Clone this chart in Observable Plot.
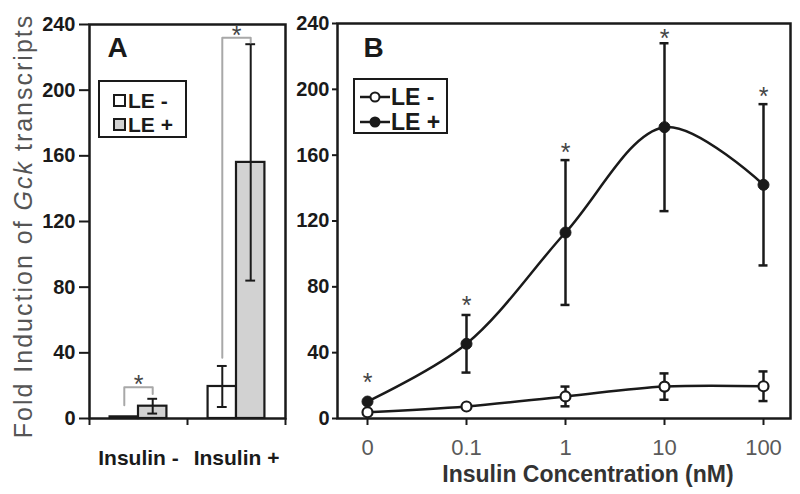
<!DOCTYPE html>
<html>
<head>
<meta charset="utf-8">
<script src="https://cdn.jsdelivr.net/npm/d3@7"></script>
<script src="https://cdn.jsdelivr.net/npm/@observablehq/plot@0.6"></script>
<style>
  html, body { margin: 0; padding: 0; background: #fff; }
  #wrap { position: relative; width: 800px; height: 494px; overflow: hidden; font-family: "Liberation Sans", Arial, sans-serif; }
  #wrap > svg { position: absolute; top: 0; }
  .legend { position: absolute; border: 2px solid #1a1a1a; background: #fff; box-sizing: border-box; font-weight: bold; color: #1a1a1a; }
  .legend .row { position: absolute; left: 0; display: flex; align-items: center; white-space: nowrap; }
</style>
</head>
<body>
<div id="wrap"></div>
<script>
// ---------- Panel A data ----------
const groups = ["Insulin -", "Insulin +"];
const seriesNames = ["LE -", "LE +"];
const barLEminus = [1, 19.5];
const barLEminusErr = [0, 12.5];
const barLEplus = [7.5, 156];
const barLEplusErr = [4.5, 72];
const bracketTop = [19, 232];
const bracketLeftEnd = [8, 37];
const bracketRightEnd = [15, 229];
const yTicks = [0, 40, 80, 120, 160, 200, 240];

// ---------- Panel B data ----------
const conc = ["0", "0.1", "1", "10", "100"];
const lineLEminus = [3.8, 7.3, 13.4, 19.4, 19.6];
const lineLEminusErr = [0, 0, 6, 8, 9];
const lineLEplus = [10.3, 45.4, 113, 177, 142];
const lineLEplusErr = [0, 17.5, 44, 51, 49];
const starY = [25, 72, 165, 234, 199];

const INK = "#1a1a1a";
const FONT = "Liberation Sans, Arial, sans-serif";
const wrap = document.getElementById("wrap");

// ---------- Panel A ----------
const barW = 0.29;
const aRows = groups.flatMap((g, gi) => [
  {group: g, gi, series: seriesNames[0], value: barLEminus[gi], err: barLEminusErr[gi], x1: gi + 0.5 - barW, x2: gi + 0.5},
  {group: g, gi, series: seriesNames[1], value: barLEplus[gi], err: barLEplusErr[gi], x1: gi + 0.5, x2: gi + 0.5 + barW}
]);
const ctr = d => (d.x1 + d.x2) / 2;
const aErr = aRows.filter(d => d.err > 0);
const capA = 0.05;
const bracketPts = groups.flatMap((g, gi) => {
  const l = gi + 0.5 - barW / 2, r = gi + 0.5 + barW / 2;
  return [
    {gi, x: l, y: bracketLeftEnd[gi]},
    {gi, x: l, y: bracketTop[gi]},
    {gi, x: r, y: bracketTop[gi]},
    {gi, x: r, y: bracketRightEnd[gi]}
  ];
});

const plotA = Plot.plot({
  width: 289, height: 494,
  marginLeft: 89, marginRight: 4, marginTop: 24, marginBottom: 76,
  style: {fontFamily: FONT, background: "transparent", overflow: "visible"},
  x: {domain: [0, groups.length]},
  y: {domain: [0, 240]},
  marks: [
    Plot.rect(aRows.filter(d => d.series === seriesNames[0]), {x1: "x1", x2: "x2", y1: 0, y2: "value", fill: "#ffffff", stroke: INK, strokeWidth: 2.2}),
    Plot.rect(aRows.filter(d => d.series === seriesNames[1]), {x1: "x1", x2: "x2", y1: 0, y2: "value", fill: "#d2d2d2", stroke: INK, strokeWidth: 2.2}),
    Plot.ruleX(aErr, {x: ctr, y1: d => d.value - d.err, y2: d => d.value + d.err, stroke: INK, strokeWidth: 2}),
    Plot.ruleY(aErr, {y: d => d.value + d.err, x1: d => ctr(d) - capA, x2: d => ctr(d) + capA, stroke: INK, strokeWidth: 2}),
    Plot.ruleY(aErr, {y: d => d.value - d.err, x1: d => ctr(d) - capA, x2: d => ctr(d) + capA, stroke: INK, strokeWidth: 2}),
    Plot.line(bracketPts, {x: "x", y: "y", z: "gi", stroke: "#a8a8a8", strokeWidth: 2, curve: "linear"}),
    Plot.text(groups, {x: (d, i) => i + 0.5, y: (d, i) => bracketTop[i], text: () => "*", fontSize: 25, fill: "#444", lineAnchor: "bottom", dy: 6}),
    Plot.frame({stroke: INK, strokeWidth: 2.5}),
    Plot.axisY({ticks: yTicks, tickSize: 10, tickPadding: 4, stroke: INK, strokeWidth: 2, fill: INK, fontSize: 20, fontWeight: "bold", label: null}),
    Plot.axisX({ticks: d3.range(groups.length + 1), tickSize: 7, tickFormat: () => "", stroke: INK, strokeWidth: 2, label: null}),
    Plot.axisX({ticks: groups.map((g, i) => i + 0.5), tickSize: 0, tickPadding: 32, tickFormat: d => groups[Math.floor(d)], fill: INK, fontSize: 21, fontWeight: "bold", label: null}),
    Plot.text(["A"], {frameAnchor: "top-left", dx: 18, dy: 13, lineAnchor: "top", textAnchor: "start", fontSize: 28, fontWeight: "bold", fill: INK})
  ]
});
plotA.style.left = "0px";
wrap.appendChild(plotA);

// y-axis title with italic gene name
const yt = d3.select(plotA).append("text")
  .attr("transform", "translate(32,226) rotate(-90)")
  .attr("text-anchor", "middle")
  .attr("font-size", 25)
  .attr("letter-spacing", "2px")
  .attr("fill", "#555")
  .attr("font-family", FONT);
yt.append("tspan").text("Fold Induction of ");
yt.append("tspan").attr("font-style", "italic").text("Gck");
yt.append("tspan").text(" transcripts");

// ---------- Panel B ----------
const bMinus = conc.map((c, i) => ({conc: c, value: lineLEminus[i], err: lineLEminusErr[i]}));
const bPlus = conc.map((c, i) => ({conc: c, value: lineLEplus[i], err: lineLEplusErr[i]}));
const bErr = [...bMinus, ...bPlus].filter(d => d.err > 0);
const capB = {x1: "conc", x2: "conc", insetLeft: -4.5, insetRight: -4.5, stroke: INK, strokeWidth: 2.5};

const plotB = Plot.plot({
  width: 511, height: 494,
  marginLeft: 48, marginRight: 10, marginTop: 23, marginBottom: 76,
  style: {fontFamily: FONT, background: "transparent", overflow: "visible"},
  x: {type: "point", domain: conc, padding: 0, insetLeft: 30, insetRight: 27},
  y: {domain: [0, 240]},
  marks: [
    Plot.ruleX(bErr, {x: "conc", y1: d => d.value - d.err, y2: d => d.value + d.err, stroke: INK, strokeWidth: 2.5}),
    Plot.ruleY(bErr, {...capB, y: d => d.value + d.err}),
    Plot.ruleY(bErr, {...capB, y: d => d.value - d.err}),
    Plot.line(bMinus, {x: "conc", y: "value", curve: "catmull-rom", stroke: INK, strokeWidth: 2.5}),
    Plot.line(bPlus, {x: "conc", y: "value", curve: "catmull-rom", stroke: INK, strokeWidth: 2.5}),
    Plot.dot(bMinus, {x: "conc", y: "value", r: 5, fill: "#fff", stroke: INK, strokeWidth: 2.2}),
    Plot.dot(bPlus, {x: "conc", y: "value", r: 5.5, fill: INK, stroke: INK, strokeWidth: 1}),
    Plot.text(conc, {x: d => d, y: (d, i) => starY[i], text: () => "*", fontSize: 25, fill: "#444", lineAnchor: "middle", dy: 6}),
    Plot.frame({stroke: INK, strokeWidth: 2.5}),
    Plot.axisY({ticks: yTicks, tickSize: 5, tickPadding: 3, stroke: INK, strokeWidth: 2, fill: INK, fontSize: 20, fontWeight: "bold", label: null}),
    Plot.axisX({tickSize: 7, tickPadding: 14, stroke: INK, strokeWidth: 2, fill: "#5a5a5a", fontSize: 22, label: null}),
    Plot.text(["Insulin Concentration (nM)"], {frameAnchor: "bottom", dx: 24, dy: 63, fontSize: 23, fontWeight: "bold", fill: "#333"}),
    Plot.text(["B"], {frameAnchor: "top-left", dx: 26, dy: 14, lineAnchor: "top", textAnchor: "start", fontSize: 28, fontWeight: "bold", fill: INK})
  ]
});
plotB.style.left = "289px";
wrap.appendChild(plotB);

// ---------- Legends ----------
function legend(left, top, w, h, rows, fontSize) {
  const box = document.createElement("div");
  box.className = "legend";
  Object.assign(box.style, {left: left + "px", top: top + "px", width: w + "px", height: h + "px", fontSize: fontSize + "px"});
  rows.forEach(r => {
    const row = document.createElement("div");
    row.className = "row";
    row.style.top = r.top + "px";
    row.style.height = r.h + "px";
    row.style.left = r.left + "px";
    row.innerHTML = r.marker;
    const span = document.createElement("span");
    span.textContent = r.label;
    span.style.lineHeight = r.h + "px";
    row.appendChild(span);
    box.appendChild(row);
  });
  wrap.appendChild(box);
}
const sq = fill => `<svg width="16" height="14" style="flex:none"><rect x="2" y="1" width="11" height="11" fill="${fill}" stroke="${INK}" stroke-width="2"/></svg>`;
legend(98, 80, 89, 58, [
  {top: 7, h: 24, left: 12, marker: sq("#fff"), label: seriesNames[0]},
  {top: 31, h: 24, left: 12, marker: sq("#d2d2d2"), label: seriesNames[1]}
], 21);
const ln = fill => `<svg width="32" height="14" style="flex:none"><line x1="1" y1="7" x2="31" y2="7" stroke="${INK}" stroke-width="2.5"/><circle cx="16" cy="7" r="4.5" fill="${fill}" stroke="${INK}" stroke-width="2"/></svg>`;
legend(353, 78, 95, 56, [
  {top: 5, h: 24, left: 4, marker: ln("#fff"), label: seriesNames[0]},
  {top: 30, h: 24, left: 4, marker: ln(INK), label: seriesNames[1]}
], 23);
</script>
</body>
</html>
